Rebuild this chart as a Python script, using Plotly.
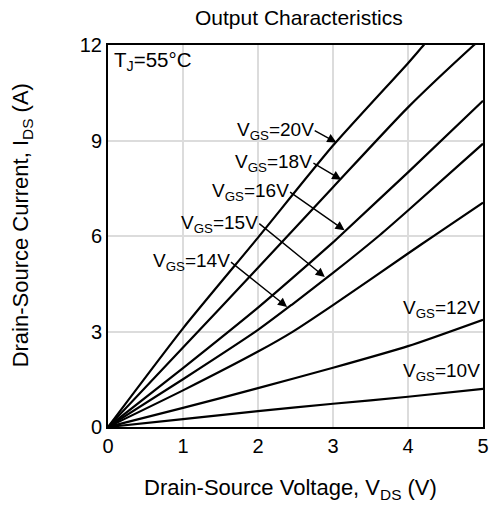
import plotly.graph_objects as go

# Data (V_DS in volts, I_DS in amps)
vds_10v = [0, 1, 2, 3, 4, 5]
ids_10v = [0, 0.25, 0.50, 0.73, 0.95, 1.20]
vds_12v = [0, 1, 2, 3, 4, 5]
ids_12v = [0, 0.60, 1.22, 1.86, 2.54, 3.37]
vds_14v = [0, 1, 2, 2.46, 3, 4, 4.36, 5]
ids_14v = [0, 1.15, 2.37, 2.99, 3.83, 5.45, 6.03, 7.05]
vds_15v = [0, 1, 2, 2.45, 3, 3.63, 4, 5]
ids_15v = [0, 1.50, 3.05, 3.84, 4.84, 6.04, 6.80, 8.90]
vds_16v = [0, 1, 2, 2.45, 3, 3.11, 4, 5]
ids_16v = [0, 1.85, 3.75, 4.66, 5.80, 6.04, 8.00, 10.25]
vds_18v = [0, 1, 2, 3, 4, 4.88, 5]
ids_18v = [0, 2.50, 5.00, 7.53, 10.04, 12.0, 12.25]
vds_20v = [0, 1, 2, 3, 4, 4.21, 5]
ids_20v = [0, 3.10, 5.95, 8.84, 11.43, 12.0, 14.1]

x_ticks = [0, 1, 2, 3, 4, 5]
y_ticks = [0, 3, 6, 9, 12]

# Arrow label anchors (text tail -> arrow head), in data units
arrow_labels = ["20", "18", "16", "15", "14"]
arrow_tail_x = [2.756, 2.739, 2.428, 2.017, 1.640]
arrow_tail_y = [9.31, 8.29, 7.38, 6.39, 5.18]
arrow_head_x = [3.045, 3.11, 3.154, 2.891, 2.388]
arrow_head_y = [8.94, 7.77, 6.18, 4.71, 3.77]

FONT = "Arial, Liberation Sans, Helvetica, sans-serif"
FS_LAB = 19
FS_TICK = 20
FS_TITLE = 22

fig = go.Figure()
for vx, iy in [(vds_10v, ids_10v), (vds_12v, ids_12v), (vds_14v, ids_14v),
               (vds_15v, ids_15v), (vds_16v, ids_16v), (vds_18v, ids_18v),
               (vds_20v, ids_20v)]:
    fig.add_trace(go.Scatter(
        x=vx, y=iy, mode="lines",
        line=dict(color="black", width=2.2, shape="spline", smoothing=0.6),
        showlegend=False, hoverinfo="skip",
    ))

annotations = []
for lab, tx, ty, hx, hy in zip(arrow_labels, arrow_tail_x, arrow_tail_y,
                                arrow_head_x, arrow_head_y):
    annotations.append(dict(
        x=hx, y=hy, xref="x", yref="y",
        ax=tx, ay=ty, axref="x", ayref="y",
        text=f"V<sub>GS</sub>={lab}V", showarrow=True,
        arrowhead=2, arrowsize=1.3, arrowwidth=1.4, arrowcolor="black",
        xanchor="right", yanchor="middle", borderpad=0, standoff=0,
        font=dict(family=FONT, size=FS_LAB, color="black"),
    ))

annotations.append(dict(x=4.99, y=3.7, xref="x", yref="y",
                        text="V<sub>GS</sub>=12V", showarrow=False,
                        xanchor="right", yanchor="middle",
                        font=dict(family=FONT, size=FS_LAB, color="black")))
annotations.append(dict(x=4.99, y=1.72, xref="x", yref="y",
                        text="V<sub>GS</sub>=10V", showarrow=False,
                        xanchor="right", yanchor="middle",
                        font=dict(family=FONT, size=FS_LAB, color="black")))
annotations.append(dict(x=0.05, y=11.5, xref="x", yref="y",
                        text="T<sub>J</sub>=55°C", showarrow=False,
                        xanchor="left", yanchor="middle",
                        font=dict(family=FONT, size=20.5, color="black")))

W, H = 495, 505
L, R, T, B = 108, 6, 45, 78
pw, ph = W - L - R, H - T - B


def px2paper(px, py):
    return (px - L) / pw, 1 - (py - T) / ph


tx_, ty_ = px2paper(293, 489)
annotations.append(dict(x=tx_, y=ty_, xref="paper", yref="paper",
                        text="Drain-Source Voltage, V<sub>DS</sub> (V)", showarrow=False,
                        xanchor="center", yanchor="middle",
                        font=dict(family=FONT, size=FS_TITLE, color="black")))
tx_, ty_ = px2paper(21, 225)
annotations.append(dict(x=tx_, y=ty_, xref="paper", yref="paper",
                        text="Drain-Source Current, I<sub>DS</sub> (A)", showarrow=False,
                        textangle=-90, xanchor="center", yanchor="middle",
                        font=dict(family=FONT, size=FS_TITLE, color="black")))
tx_, ty_ = px2paper(302, 18)
annotations.append(dict(x=tx_, y=ty_, xref="paper", yref="paper",
                        text="Output Characteristics", showarrow=False,
                        xanchor="center", yanchor="middle",
                        font=dict(family=FONT, size=FS_TITLE - 1, color="black")))

fig.update_layout(
    width=W, height=H,
    margin=dict(l=L, r=R, t=T, b=B),
    paper_bgcolor="white", plot_bgcolor="white",
    annotations=annotations,
    font=dict(family=FONT, size=FS_TICK, color="black"),
)
fig.update_xaxes(
    range=[0, 5], tickvals=x_ticks, ticks="", showgrid=True,
    gridcolor="#dcdcdc", gridwidth=2, zeroline=False,
    showline=True, linecolor="black", linewidth=2, mirror=True,
    tickfont=dict(family=FONT, size=FS_TICK, color="black"),
)
fig.update_yaxes(
    range=[0, 12], tickvals=y_ticks, ticks="", showgrid=True,
    gridcolor="#dcdcdc", gridwidth=2, zeroline=False,
    showline=True, linecolor="black", linewidth=2, mirror=True,
    tickfont=dict(family=FONT, size=FS_TICK, color="black"),
)

fig.write_html("out.html")
